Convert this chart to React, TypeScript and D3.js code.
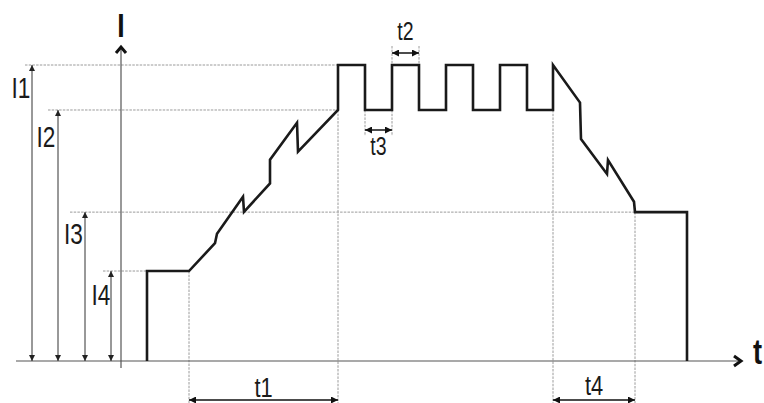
import React from "react";
import * as d3 from "d3";

// Current levels (relative units, I1 = 100)
const levelNames = ["I1", "I2", "I3", "I4"];
const levelValues = [100, 84.8, 50.3, 30.4];

// Waveform: time (arb. units from I axis) and current
const waveT = [26, 26, 68, 94, 96, 122, 123, 149, 149, 176, 177, 217, 217, 244, 244, 271, 271, 298, 298, 325, 325, 352, 352, 379, 379, 406, 406, 432, 432, 459, 460, 486, 487, 513, 514, 566, 566];
const waveI = [0, 30.4, 30.4, 39.8, 43, 55.5, 50.4, 60, 68, 80.5, 70.7, 84.8, 100, 100, 84.8, 84.8, 100, 100, 84.8, 84.8, 100, 100, 84.8, 84.8, 100, 100, 84.8, 84.8, 100, 87.3, 75, 63.2, 67.9, 53.8, 50.3, 50.3, 0];

// Time intervals
const intervalNames = ["t1", "t2", "t3", "t4"];
const intervalStart = [68, 271, 244, 432];
const intervalEnd = [217, 298, 271, 514];

const W = 764;
const H = 403;
const x = d3.scaleLinear().domain([0, 620]).range([121, 741]);
const y = d3.scaleLinear().domain([0, 100]).range([361, 65]);

const DASH = { stroke: "#9a9a9a", strokeWidth: 1, strokeDasharray: "2.5,1.2", fill: "none" } as const;
const FONT = "'Liberation Sans', Arial, sans-serif";

function NarrowText({ x: tx, y: ty, size, children }: { x: number; y: number; size: number; children: React.ReactNode }) {
  return (
    <text
      transform={`translate(${tx},${ty}) scale(0.78,1)`}
      textAnchor="middle"
      fontFamily={FONT}
      fontSize={size}
      fill="#1a1a1a"
    >
      {children}
    </text>
  );
}

export default function App() {
  const line = d3
    .line<number>()
    .x((_, i) => x(waveT[i]))
    .y((_, i) => y(waveI[i]));
  const wavePath = line(waveT) || "";

  const levelArrowX = [32, 58, 85, 111];
  const levelDashStart = [25, 48, 70, 103];
  const levelDashEnd = [x(217), x(217), x(514), x(26)];
  const levelLabelX = [21, 46, 73.5, 101];
  const labelOffset = [33, 37, 32, 34];

  const base = y(0);

  // vertical dashed markers
  const vMarks = [
    { t: 68, top: y(levelValues[3]) },
    { t: 217, top: y(levelValues[1]) },
    { t: 432, top: y(levelValues[1]) },
    { t: 514, top: y(levelValues[2]) },
  ];

  const tArrowY = [400, 53, 130, 400];
  const tLabelY = [397, 40, 155, 395];
  const tLabelSize = [28, 25, 25, 28];

  return (
    <svg
      width={W}
      height={H}
      viewBox={`0 0 ${W} ${H}`}
      style={{ position: "absolute", left: 0, top: 0, background: "#fff" }}
    >
      <defs>
        <marker id="thinHead" viewBox="0 0 10 10" refX="10" refY="5" markerWidth="7" markerHeight="6" markerUnits="userSpaceOnUse" orient="auto-start-reverse">
          <path d="M0,0 L10,5 L0,10 z" fill="#222" />
        </marker>
        <marker id="tHead" viewBox="0 0 10 10" refX="10" refY="5" markerWidth="9" markerHeight="7" markerUnits="userSpaceOnUse" orient="auto-start-reverse">
          <path d="M0,0 L10,5 L0,10 z" fill="#111" />
        </marker>
      </defs>

      {/* horizontal level dashed lines */}
      {levelValues.map((v, i) => (
        <line key={"ld" + i} x1={levelDashStart[i]} x2={levelDashEnd[i]} y1={y(v)} y2={y(v)} {...DASH} />
      ))}

      {/* vertical dashed markers */}
      {vMarks.map((m, i) => (
        <line key={"vm" + i} x1={x(m.t)} x2={x(m.t)} y1={m.top} y2={H} {...DASH} />
      ))}
      {/* t2 markers above, t3 markers below */}
      {[intervalStart[1], intervalEnd[1]].map((t, i) => (
        <line key={"t2m" + i} x1={x(t)} x2={x(t)} y1={46} y2={y(100)} {...DASH} />
      ))}
      {[intervalStart[2], intervalEnd[2]].map((t, i) => (
        <line key={"t3m" + i} x1={x(t)} x2={x(t)} y1={y(84.8)} y2={136} {...DASH} />
      ))}

      {/* axes */}
      <line x1={16} x2={x(620)} y1={base} y2={base} stroke="#555" strokeWidth={1.2} />
      <line x1={x(0)} x2={x(0)} y1={47} y2={368} stroke="#555" strokeWidth={1.2} />
      <path d={`M${x(0) - 5},${53} L${x(0)},${47} L${x(0) + 5},${53}`} fill="none" stroke="#111" strokeWidth={3} strokeLinejoin="miter" />
      <path d={`M${x(620) - 7},${base - 5} L${x(620)},${base} L${x(620) - 7},${base + 5}`} fill="none" stroke="#111" strokeWidth={3} />
      <text x={x(0)} y={37} textAnchor="middle" fontFamily={FONT} fontSize={34} fontWeight="bold" fill="#111" transform={`translate(${x(0)},0) scale(0.78,1) translate(${-x(0)},0)`}>I</text>
      <text x={757.5} y={364} textAnchor="middle" fontFamily={FONT} fontSize={35} fontWeight="bold" fill="#111" transform={`translate(757.5,0) scale(0.78,1) translate(-757.5,0)`}>t</text>

      {/* level dimension arrows */}
      {levelValues.map((v, i) => (
        <g key={"la" + i}>
          <line
            x1={levelArrowX[i]}
            x2={levelArrowX[i]}
            y1={base}
            y2={y(v)}
            stroke="#333"
            strokeWidth={1}
            markerStart="url(#thinHead)"
            markerEnd="url(#thinHead)"
          />
          <NarrowText x={levelLabelX[i]} y={y(v) + labelOffset[i]} size={29}>
            {levelNames[i]}
          </NarrowText>
        </g>
      ))}

      {/* time interval arrows */}
      {intervalNames.map((n, i) => (
        <g key={"ta" + i}>
          <line
            x1={x(intervalStart[i])}
            x2={x(intervalEnd[i])}
            y1={tArrowY[i]}
            y2={tArrowY[i]}
            stroke="#111"
            strokeWidth={1.5}
            markerStart="url(#tHead)"
            markerEnd="url(#tHead)"
          />
          <NarrowText x={(x(intervalStart[i]) + x(intervalEnd[i])) / 2} y={tLabelY[i]} size={tLabelSize[i]}>
            {n}
          </NarrowText>
        </g>
      ))}

      {/* waveform */}
      <path d={wavePath} fill="none" stroke="#1a1a1a" strokeWidth={2.6} strokeLinejoin="miter" />
    </svg>
  );
}
